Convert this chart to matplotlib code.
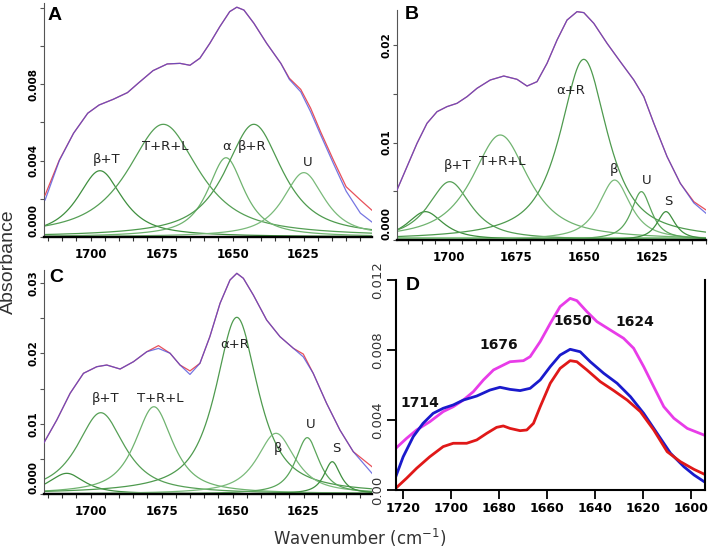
import numpy as np
import matplotlib
matplotlib.use("Agg")
import matplotlib.pyplot as plt
from matplotlib.ticker import MultipleLocator

# ---------------- data ----------------
# panel A : measured (red) and fitted (blue) spectrum, wavenumber descending
wnA = [1716, 1711, 1706, 1701, 1697, 1692, 1687, 1683, 1678, 1673, 1668.5, 1665,
       1661.5, 1658, 1654.5, 1651, 1648.5, 1646, 1642.5, 1638, 1633, 1630, 1626,
       1622.5, 1619, 1614.5, 1610, 1605, 1601]
redA = [2.20, 4.03, 5.43, 6.48, 6.91, 7.21, 7.56, 8.08, 8.71, 9.06, 9.09, 8.99,
        9.36, 10.14, 11.01, 11.80, 12.03, 11.88, 11.19, 10.14, 9.09, 8.31, 7.73,
        6.74, 5.51, 4.03, 2.63, 1.94, 1.41]
blueA = [1.94, 4.00, 5.43, 6.48, 6.91, 7.21, 7.56, 8.08, 8.71, 9.06, 9.09, 8.99,
         9.36, 10.14, 11.01, 11.80, 12.03, 11.88, 11.19, 10.14, 9.09, 8.25, 7.60,
         6.55, 5.35, 3.85, 2.40, 1.25, 0.79]
# component bands: centre, height (x1e-3), half width
bandA_c = [1696.7, 1674.4, 1652.3, 1642.5, 1624.9]
bandA_h = [3.47, 5.90, 4.15, 5.90, 3.37]
bandA_w = [9.5, 15.0, 7.7, 12.0, 8.8]
labA = ["β+T", "T+R+L", "α", "β+R", "U"]
labA_x = [1694.3, 1673.8, 1652.1, 1643.3, 1623.7]
labA_y = [4.07, 4.73, 4.73, 4.73, 3.91]

# panel B
wnB = [1719.2, 1715.5, 1711.8, 1708.1, 1704.4, 1700.7, 1697.0, 1693.3, 1689.6,
       1684.7, 1679.7, 1674.8, 1671.1, 1667.4, 1663.7, 1660.0, 1656.3, 1652.6,
       1650.1, 1646.4, 1641.5, 1636.6, 1631.6, 1627.9, 1624.2, 1619.3, 1614.4,
       1609.4, 1604.9]
redB = [5.13, 7.52, 9.91, 11.97, 13.16, 13.68, 14.02, 14.70, 15.56, 16.41, 16.82,
        16.48, 15.79, 16.24, 18.12, 20.51, 22.56, 23.42, 23.32, 22.22, 20.17, 18.29,
        16.41, 14.70, 11.97, 8.55, 5.81, 3.93, 3.08]
blueB = [5.13, 7.52, 9.91, 11.97, 13.16, 13.68, 14.02, 14.70, 15.56, 16.41, 16.82,
         16.48, 15.79, 16.24, 18.12, 20.51, 22.56, 23.42, 23.32, 22.22, 20.17, 18.29,
         16.41, 14.70, 11.97, 8.55, 5.81, 3.80, 2.74]
bandB_c = [1708.7, 1699.7, 1681.0, 1650.1, 1638.7, 1628.8, 1619.7]
bandB_h = [2.91, 5.98, 10.77, 18.53, 6.15, 4.96, 2.91]
bandB_w = [8.0, 9.5, 12.5, 10.5, 7.0, 4.5, 4.0]
labB = ["β+T", "T+R+L", "α+R", "β", "U", "S"]
labB_x = [1696.8, 1680.3, 1655.1, 1639.0, 1626.7, 1618.7]
labB_y = [7.62, 8.03, 15.3, 7.25, 6.15, 3.93]

# panel C
wnC = [1716.4, 1711.9, 1707.2, 1702.5, 1697.8, 1694.3, 1689.6, 1684.9, 1680.2,
       1676.1, 1672.0, 1668.5, 1665.0, 1661.5, 1658.0, 1654.4, 1650.9, 1648.5,
       1646.2, 1642.7, 1638.0, 1633.3, 1628.6, 1625.1, 1621.6, 1616.9, 1612.2,
       1607.5, 1600.9]
redC = [7.30, 10.52, 14.32, 17.16, 18.10, 18.34, 17.77, 18.81, 20.23, 21.10, 20.01,
        18.34, 17.50, 18.58, 22.37, 27.12, 30.43, 31.38, 30.67, 28.30, 24.74, 22.37,
        20.72, 19.90, 17.16, 12.90, 9.10, 6.02, 3.88]
blueC = [7.30, 10.52, 14.32, 17.16, 18.10, 18.34, 17.77, 18.81, 20.23, 20.70, 20.01,
         18.34, 17.00, 18.58, 22.37, 27.12, 30.43, 31.38, 30.67, 28.30, 24.74, 22.37,
         20.72, 19.50, 17.16, 12.90, 9.10, 6.02, 2.94]
bandC_c = [1708.4, 1696.4, 1677.7, 1648.5, 1634.7, 1623.7, 1614.9]
bandC_h = [2.94, 11.56, 12.41, 25.12, 8.63, 8.01, 4.59]
bandC_w = [7.5, 10.0, 8.0, 9.0, 8.0, 5.0, 3.5]
labC = ["β+T", "T+R+L", "α+R", "β", "U", "S"]
labC_x = [1694.6, 1675.6, 1649.1, 1634.1, 1622.5, 1613.3]
labC_y = [13.6, 13.6, 21.3, 6.5, 9.9, 6.5]

# panel D : three spectra
wnD_m = [1723.1, 1718.6, 1714.4, 1708.9, 1703.3, 1699.1, 1694.9, 1690.7, 1686.5,
         1682.3, 1678.2, 1675.4, 1669.8, 1667.0, 1662.8, 1658.6, 1654.5, 1650.3,
         1647.5, 1643.3, 1639.1, 1633.5, 1628.0, 1623.8, 1619.6, 1615.4, 1611.2,
         1607.0, 1601.4, 1594.4]
magD = [2.38, 2.95, 3.43, 3.90, 4.48, 4.76, 5.14, 5.62, 6.29, 6.86, 7.14, 7.33,
        7.39, 7.62, 8.48, 9.52, 10.48, 10.95, 10.82, 10.19, 9.62, 9.14, 8.67, 8.10,
        7.05, 5.90, 4.76, 4.10, 3.52, 3.14]
wnD_b = [1723.1, 1720.0, 1715.8, 1711.7, 1707.5, 1703.3, 1699.1, 1694.9, 1689.3,
         1683.8, 1679.6, 1675.4, 1671.2, 1667.0, 1662.8, 1658.6, 1654.5, 1650.3,
         1646.1, 1641.9, 1636.3, 1630.7, 1625.1, 1619.6, 1614.0, 1608.4, 1602.8,
         1598.6, 1594.4]
bluD = [0.76, 1.90, 3.05, 3.81, 4.38, 4.67, 4.86, 5.14, 5.37, 5.71, 5.87, 5.75,
        5.68, 5.81, 6.29, 7.05, 7.71, 8.04, 7.90, 7.33, 6.67, 6.10, 5.33, 4.38,
        3.24, 2.10, 1.33, 0.86, 0.48]
wnD_r = [1723.1, 1718.6, 1714.4, 1708.9, 1703.3, 1699.1, 1693.5, 1689.3, 1685.1,
         1681.0, 1678.2, 1675.4, 1671.2, 1668.4, 1665.6, 1662.8, 1658.6, 1654.5,
         1650.3, 1647.5, 1643.3, 1637.7, 1632.1, 1626.5, 1621.0, 1615.4, 1609.8,
         1604.3, 1598.6, 1594.4]
redD = [0.10, 0.67, 1.24, 1.90, 2.48, 2.67, 2.67, 2.86, 3.24, 3.58, 3.66, 3.52,
        3.39, 3.43, 3.81, 4.76, 6.10, 6.95, 7.39, 7.33, 6.86, 6.19, 5.68, 5.14,
        4.48, 3.43, 2.19, 1.62, 1.18, 0.91]
labD = ["1714", "1676", "1650", "1624"]
labD_x = [1713.1, 1680.3, 1649.2, 1623.1]
labD_y = [4.95, 8.29, 9.68, 9.62]


def band(x, c, h, w, eta=0.85):
    # pseudo-Voigt band shape
    d = (x - c) / w
    return h * (eta / (1 + d ** 2) + (1 - eta) * np.exp(-np.log(2) * d ** 2))


W, H = 709, 552
fig = plt.figure(figsize=(W / 100, H / 100), dpi=100)


def rect(l, r, t, b):
    return [l / W, 1 - b / H, (r - l) / W, (b - t) / H]


NARROW = "Liberation Sans Narrow"
greens = ["#3f8f3f", "#559f55", "#6fb36f", "#4e9a4e", "#7aba7a", "#5aa55a", "#3f8f3f"]


def deconv_panel(box, xlim, ylim, wn, red, blue, bc, bh, bw, labs, lx, ly,
                 yt, ytl, ymin_step):
    ax = fig.add_axes(rect(*box))
    xs = np.linspace(xlim[1], xlim[0], 600)
    for i in range(len(bc)):
        ax.plot(xs, band(xs, bc[i], bh[i], bw[i]) * 1e-3,
                color=greens[i % len(greens)], lw=0.9, zorder=2)
    ax.plot(wn, np.array(red) * 1e-3, color="#e8505a", lw=0.9, zorder=3)
    ax.plot(wn, np.array(blue) * 1e-3, color="#4848d8", lw=0.9, alpha=0.75, zorder=4)
    for t, x, y in zip(labs, lx, ly):
        ax.text(x, y * 1e-3, t, ha="center", va="center", fontsize=9.5,
                family=NARROW, color="#222222")
    ax.set_xlim(*xlim)
    ax.set_ylim(*ylim)
    ax.set_xticks([1700, 1675, 1650, 1625])
    ax.xaxis.set_minor_locator(MultipleLocator(5))
    ax.set_yticks(yt)
    ax.set_yticklabels(ytl, rotation=90, va="center")
    ax.yaxis.set_minor_locator(MultipleLocator(ymin_step))
    for s in ["top", "right"]:
        ax.spines[s].set_visible(False)
    ax.spines["left"].set_color("#555555")
    ax.spines["left"].set_linewidth(0.8)
    ax.spines["bottom"].set_linewidth(1.7)
    ax.tick_params(axis="x", which="both", length=3, width=0.8, color="#333333",
                   pad=5)
    ax.tick_params(axis="y", which="both", length=3, width=0.8, color="#555555",
                   pad=1)
    for lab in ax.get_xticklabels():
        lab.set_fontfamily(NARROW)
        lab.set_fontweight("bold")
        lab.set_fontsize(8.5)
    ylabs = ax.get_yticklabels()
    for lab in ylabs:
        lab.set_fontfamily("DejaVu Sans")
        lab.set_fontweight("bold")
        lab.set_fontsize(7.5)
    ylabs[0].set_va("bottom")
    return ax


axA = deconv_panel((44, 372, 3, 237), (1716.4, 1600.9), (0, 0.01225), wnA, redA,
                   blueA, bandA_c, bandA_h, bandA_w, labA, labA_x, labA_y,
                   [0, 0.004, 0.008], ["0.000", "0.004", "0.008"], 0.002)
axB = deconv_panel((397, 706, 10, 240), (1719.2, 1604.9), (0, 0.02359), wnB, redB,
                   blueB, bandB_c, bandB_h, bandB_w, labB, labB_x, labB_y,
                   [0, 0.01, 0.02], ["0.000", "0.01", "0.02"], 0.005)
axB.axhline(0.0002, color="#8cc88c", lw=2.2, zorder=1)
axC = deconv_panel((44, 372, 270, 494), (1716.4, 1600.9), (0, 0.03185), wnC, redC,
                   blueC, bandC_c, bandC_h, bandC_w, labC, labC_x, labC_y,
                   [0, 0.01, 0.02, 0.03], ["0.000", "0.01", "0.02", "0.03"], 0.005)

# panel D
axD = fig.add_axes(rect(396, 705, 280, 490))
axD.plot(wnD_m, np.array(magD) * 1e-3, color="#e83ce8", lw=2)
axD.plot(wnD_b, np.array(bluD) * 1e-3, color="#1a1acc", lw=2)
axD.plot(wnD_r, np.array(redD) * 1e-3, color="#e01818", lw=2)
for t, x, y in zip(labD, labD_x, labD_y):
    axD.text(x, y * 1e-3, t, ha="center", va="center", fontsize=10,
             family=NARROW, fontweight="bold", color="#111111")
axD.set_xlim(1723, 1594)
axD.set_ylim(0, 0.012)
axD.set_xticks([1720, 1700, 1680, 1660, 1640, 1620, 1600])
axD.set_yticks([0, 0.004, 0.008, 0.012])
axD.set_yticklabels(["0.00", "0.004", "0.008", "0.012"], rotation=90, va="center")
axD.spines["top"].set_visible(False)
for s in ["left", "bottom", "right"]:
    axD.spines[s].set_linewidth(1.5)
axD.tick_params(axis="both", length=6.5, width=1.3, pad=2)
for lab in axD.get_xticklabels():
    lab.set_fontfamily(NARROW)
    lab.set_fontweight("bold")
    lab.set_fontsize(9)
for lab in axD.get_yticklabels():
    lab.set_fontfamily("DejaVu Sans")
    lab.set_fontsize(9.5)
    lab.set_color("#333333")

# panel letters and shared labels
for t, x, y in [("A", 55, 15), ("B", 411.5, 14.5), ("C", 56, 277), ("D", 413, 286)]:
    fig.text(x / W, 1 - y / H, t, ha="center", va="center", fontsize=14,
             fontweight="bold", family="Liberation Sans")
fig.text(8 / W, 1 - 262 / H, "Absorbance", rotation=90, ha="center", va="center",
         fontsize=14, family="Liberation Sans", color="#333333")
fig.text(360 / W, 1 - 538 / H, "Wavenumber (cm$^{-1}$)", ha="center", va="center",
         fontsize=12, family=NARROW, color="#333333")

fig.savefig("out.png", dpi=100)
